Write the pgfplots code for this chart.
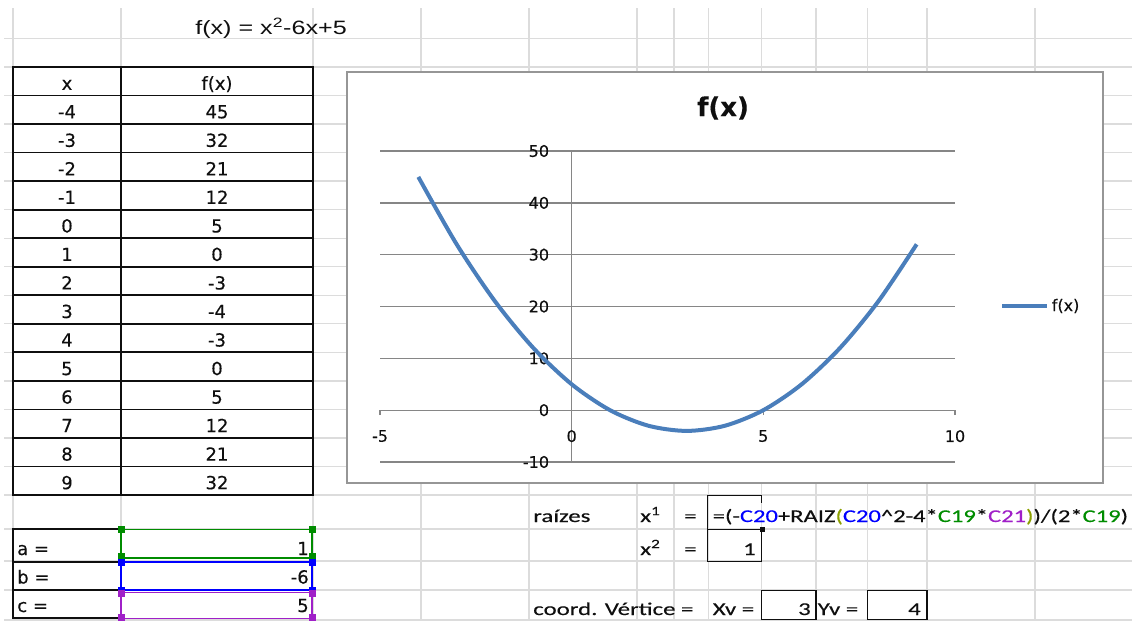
\documentclass[border=0pt]{standalone}
\usepackage{pgfplots}
\pgfplotsset{compat=1.18}
\usepackage{fontspec}
\setmainfont{DejaVu Sans}
\newfontfamily\arialfont[FakeStretch=1.3]{Liberation Sans}
\newfontfamily\califont[FakeStretch=1.38,FakeBold=0.3]{Carlito}
\newfontfamily\formfont[FakeStretch=1.365,FakeBold=0.3]{Carlito}
\newfontfamily\verd[FakeBold=0.3]{DejaVu Sans}
\newcommand\tabfont{\fontsize{13.5pt}{15pt}\verd}
\newcommand\calf{\fontsize{13.5pt}{15pt}\califont}
\definecolor{sheetgrid}{RGB}{220,220,220}
\definecolor{axisgray}{RGB}{134,134,134}
\definecolor{framegray}{RGB}{150,150,150}
\definecolor{series}{RGB}{74,126,187}
\definecolor{refgreen}{RGB}{0,140,0}
\definecolor{refblue}{RGB}{0,0,255}
\definecolor{refpurple}{RGB}{160,32,200}
\definecolor{refolive}{RGB}{140,160,0}
\definecolor{ink}{RGB}{15,15,15}

\begin{document}
\begin{tikzpicture}
\begin{scope}[x=0.75pt,y=-0.75pt]
\path[use as bounding box] (0,0) rectangle (1132,621);
% sheet gridlines
\foreach \k in {0,...,16}{
  \pgfmathsetmacro\yy{38.5+28.53*\k}
  \draw[sheetgrid, line width=1pt] (4,\yy) -- (1132,\yy);
}
\foreach \yy in {529,561,590,620}{
  \draw[sheetgrid, line width=1pt] (4,\yy) -- (1132,\yy);
}
\foreach \xx in {13,121,313,421,529,637,674,708.5,761.5,816,867.6,927,1035}{
  \draw[sheetgrid, line width=1pt] (\xx,8) -- (\xx,621);
}
% heading
\node[anchor=base west, inner sep=0pt, font=\fontsize{14.5pt}{16pt}\arialfont, text=ink] at (195,34.3) {f(x) = x\textsuperscript{2}-6x+5};
% value table
\fill[white] (13,67.03) rectangle (313,494.98);
\draw[ink, line width=1.3pt] (13,67.03) rectangle (313,494.98);
\draw[ink, line width=1.3pt] (121,67.03) -- (121,494.98);
\foreach \k in {2,...,15}{
  \pgfmathsetmacro\yy{38.5+28.53*\k}
  \draw[ink, line width=1.3pt] (13,\yy) -- (313,\yy);
}
\node[anchor=base, inner sep=0pt, font=\tabfont, text=ink] at (67,89.8) {x};
\node[anchor=base, inner sep=0pt, font=\tabfont, text=ink] at (217,89.8) {f(x)};
\foreach \xv/\fv [count=\i] in {-4/45,-3/32,-2/21,-1/12,0/5,1/0,2/-3,3/-4,4/-3,5/0,6/5,7/12,8/21,9/32}{
  \pgfmathsetmacro\yb{38.5+28.53*(\i+2)-5.8}
  \node[anchor=base, inner sep=0pt, font=\tabfont, text=ink] at (67,\yb) {\xv};
  \node[anchor=base, inner sep=0pt, font=\tabfont, text=ink] at (217,\yb) {\fv};
}
% coefficients
\draw[ink, line width=1.3pt] (121,529) -- (13,529) -- (13,618) -- (121,618);
\draw[ink, line width=1.3pt] (13,561.7) -- (121,561.7) (13,590) -- (121,590);
\foreach \lab/\val/\yb in {a =/1/555, b =/-6/583.5, c =/5/612}{
  \node[anchor=base west, inner sep=0pt, font=\tabfont, text=ink] at (17,\yb) {\lab};
  \node[anchor=base east, inner sep=0pt, font=\tabfont, text=ink] at (309,\yb) {\val};
}
\draw[refgreen, line width=1.1pt] (121,529.5) rectangle (312,558);
\foreach \p in {(121,529.5),(312,529.5),(121,556),(312,556)}{\fill[refgreen] \p ++(-3.5,-3.5) rectangle ++(7,7);}
\draw[refblue, line width=1.1pt] (121,562) rectangle (312,590);
\foreach \p in {(121,562),(312,562),(121,590),(312,590)}{\fill[refblue] \p ++(-3.5,-3.5) rectangle ++(7,7);}
\draw[refpurple, line width=1.1pt] (121,592.5) rectangle (312,618.3);
\foreach \p in {(121,593.5),(312,593.5),(121,617.5),(312,617.5)}{\fill[refpurple] \p ++(-3.5,-3.5) rectangle ++(7,7);}
% roots and vertex
\node[anchor=base west, inner sep=0pt, font=\calf, text=ink] at (533,522) {raízes};
\node[anchor=base west, inner sep=0pt, font=\calf, text=ink] at (640,522) {x\textsuperscript{1}};
\node[anchor=base west, inner sep=0pt, font=\calf, text=ink] at (684,522) {=};
\draw[ink, line width=1.1pt] (707.4,528.5) -- (707.4,495.5) -- (761.7,495.5) -- (761.7,503);
\fill[ink] (759.5,527) rectangle ++(5,5);
\node[anchor=base west, inner sep=0pt, font=\fontsize{13.5pt}{15pt}\formfont, text=ink] at (712.5,522)
  {=(-\textcolor{refblue}{C20}+RAIZ\textcolor{refolive}{(}\textcolor{refblue}{C20}\^{}2-4*\textcolor{refgreen}{C19}*\textcolor{refpurple}{C21}\textcolor{refolive}{)})/(2*\textcolor{refgreen}{C19})};
\node[anchor=base west, inner sep=0pt, font=\calf, text=ink] at (640,555) {x\textsuperscript{2}};
\node[anchor=base west, inner sep=0pt, font=\calf, text=ink] at (684,555) {=};
\draw[ink, line width=1.1pt] (707.4,529.5) rectangle (761.5,561.5);
\node[anchor=base east, inner sep=0pt, font=\calf, text=ink] at (756,555) {1};
\node[anchor=base west, inner sep=0pt, font=\calf, text=ink] at (533,615) {coord. Vértice =};
\node[anchor=base west, inner sep=0pt, font=\calf, text=ink] at (712.5,615) {Xv =};
\draw[ink, line width=1.1pt] (761.5,590.7) rectangle (816,619.7);
\node[anchor=base east, inner sep=0pt, font=\calf, text=ink] at (811,615) {3};
\node[anchor=base west, inner sep=0pt, font=\calf, text=ink] at (817.5,615) {Yv =};
\draw[ink, line width=1.1pt] (867.6,590.7) rectangle (927,619.7);
\node[anchor=base east, inner sep=0pt, font=\calf, text=ink] at (921,615) {4};
% chart area
\draw[framegray, fill=white, line width=1.1pt] (347,72) rectangle (1103,483);
\node[inner sep=0pt, font=\fontsize{19.5pt}{21pt}\verd\bfseries, text=ink] at (723,108) {f(x)};
\end{scope}
\begin{axis}[
  at={(285pt,-346.5pt)}, anchor=south west,
  width=431.25pt, height=233.25pt, scale only axis,
  xmin=-5, xmax=10, ymin=-10, ymax=50,
  axis lines=middle,
  axis line style={-, draw=axisgray, line width=1pt},
  xtick={-5,0,5,10}, ytick={-10,0,10,20,30,40,50},
  hide obscured x ticks=false, hide obscured y ticks=false,
  ymajorgrids, grid style={axisgray, line width=1pt},
  xtick style={draw=axisgray, line width=1pt},
  tick align=outside, major tick length=3.75pt,
  ytick style={draw=none},
  ticklabel style={font=\fontsize{12pt}{13pt}\verd, inner sep=0pt, text=ink},
  xticklabel style={anchor=north, yshift=-11pt},
  yticklabel style={anchor=east, xshift=-13pt},
  /pgf/number format/assume math mode=true,
  legend style={at={(1.078,0.5016)}, anchor=west, draw=none, fill=none, inner sep=0pt,
    font=\fontsize{12pt}{13pt}\verd, text=ink},
  legend image code/.code={\draw[#1] (0pt,0pt) -- (33.75pt,0pt);},
  clip=false,
]
\addplot[series, line width=3pt, smooth] coordinates {
  (-4,45) (-3,32) (-2,21) (-1,12) (0,5) (1,0) (2,-3)
  (3,-4) (4,-3) (5,0) (6,5) (7,12) (8,21) (9,32)
};
\addlegendentry{f(x)}
\end{axis}
\end{tikzpicture}
\end{document}
